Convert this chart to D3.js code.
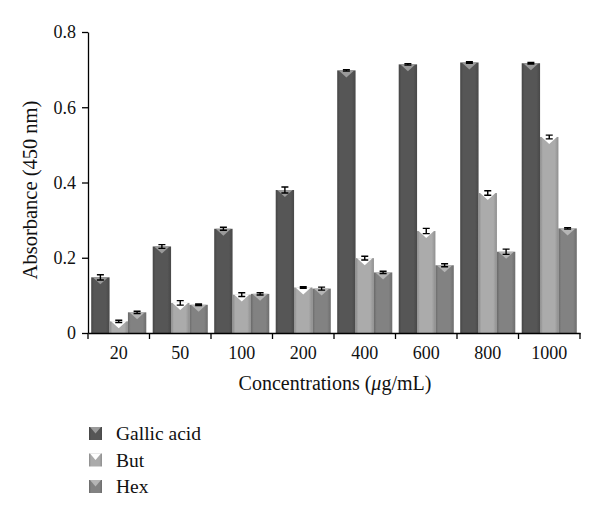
<!DOCTYPE html>
<html><head><meta charset="utf-8">
<script src="https://cdn.jsdelivr.net/npm/d3@7"></script>
<style>body{margin:0;background:#fff}svg{display:block}</style>
</head><body>
<svg id="c" width="600" height="517"></svg>
<script>
const categories = ["20","50","100","200","400","600","800","1000"];
const seriesNames = ["Gallic acid","But","Hex"];
const gallic = [0.148,0.230,0.277,0.380,0.698,0.714,0.719,0.717];
const but    = [0.031,0.080,0.102,0.121,0.199,0.271,0.372,0.521];
const hex    = [0.055,0.075,0.104,0.118,0.161,0.180,0.216,0.278];
const gallicErr = [0.007,0.005,0.004,0.008,0.002,0.002,0.002,0.002];
const butErr    = [0.003,0.006,0.005,0.002,0.005,0.007,0.006,0.005];
const hexErr    = [0.003,0.002,0.003,0.004,0.003,0.004,0.007,0.002];
const yTicks = [0,0.2,0.4,0.6,0.8];
const colors = ["#565656","#ababab","#828282"];
const tipColors = ["#9a9a9a","#ffffff","#b5b5b5"];

const svg = d3.select("#c");
const x0 = d3.scaleBand().domain(categories).range([88,580]).paddingInner(0).paddingOuter(0);
const x1 = d3.scaleBand().domain(seriesNames).range([0,x0.bandwidth()]).paddingInner(0).paddingOuter(0.175);
const y = d3.scaleLinear().domain([0,0.8]).range([333,32]);

const defs = svg.append("defs");
colors.forEach((c,i)=>{
  const g = defs.append("linearGradient").attr("id","g"+i).attr("x1","0").attr("x2","1").attr("y1","0").attr("y2","0");
  const base = d3.color(c);
  g.append("stop").attr("offset","0%").attr("stop-color",base.darker(0.6));
  g.append("stop").attr("offset","15%").attr("stop-color",base);
  g.append("stop").attr("offset","80%").attr("stop-color",base);
  g.append("stop").attr("offset","100%").attr("stop-color",base.darker(0.5));
});

const data = [gallic,but,hex];
const errs = [gallicErr,butErr,hexErr];
const font = "'Liberation Serif','DejaVu Serif',serif";

seriesNames.forEach((s,si)=>{
  const g = svg.append("g");
  categories.forEach((c,ci)=>{
    const v = data[si][ci];
    const bx = x0(c)+x1(s), bw = x1.bandwidth();
    g.append("rect").attr("x",bx).attr("y",y(v)).attr("width",bw).attr("height",y(0)-y(v))
      .attr("fill",`url(#g${si})`);
    const th = Math.min(7, y(0)-y(v));
    g.append("path").attr("d",`M${bx+1.5},${y(v)}L${bx+bw-1.5},${y(v)}L${bx+bw/2},${y(v)+th}Z`)
      .attr("fill",tipColors[si]);
    const e = errs[si][ci], cx = bx+bw/2;
    g.append("path").attr("d",`M${cx-3.5},${y(v+e)}H${cx+3.5}M${cx},${y(v+e)}V${y(v-e)}M${cx-3.5},${y(v-e)}H${cx+3.5}`)
      .attr("stroke","#000").attr("stroke-width",1.4).attr("fill","none");
  });
});

const yAxis = svg.append("g").attr("transform","translate(88,0)")
  .call(d3.axisLeft(y).tickValues(yTicks).tickFormat(d=>d===0?"0":d3.format(".1f")(d)).tickSize(6).tickSizeOuter(0));
const xAxis = svg.append("g").attr("transform","translate(0,333)")
  .call(d3.axisBottom(x0).tickSize(0).tickSizeOuter(0));
[yAxis,xAxis].forEach(a=>{
  a.select(".domain").attr("stroke","#000").attr("stroke-width",1.3);
  a.selectAll(".tick line").attr("stroke","#000").attr("stroke-width",1.3);
  a.selectAll("text").attr("font-family",font).attr("font-size",18).attr("fill","#111");
});
yAxis.selectAll(".tick text").attr("x",-12);
xAxis.selectAll(".tick text").attr("dy",null).attr("y",26);
const bounds = categories.map(c=>x0(c)).concat([x0.range()[1]]);
xAxis.selectAll(".btick").data(bounds).enter().append("line")
  .attr("x1",d=>d).attr("x2",d=>d).attr("y1",0).attr("y2",6)
  .attr("stroke","#000").attr("stroke-width",1.3);

svg.append("text").attr("transform","translate(37,190) rotate(-90)").attr("text-anchor","middle")
  .attr("font-family",font).attr("font-size",20.5).attr("fill","#111").text("Absorbance (450 nm)");
const xt = svg.append("text").attr("x",335).attr("y",390).attr("text-anchor","middle")
  .attr("font-family",font).attr("font-size",20).attr("fill","#111");
xt.append("tspan").text("Concentrations (");
xt.append("tspan").attr("font-style","italic").text("μ");
xt.append("tspan").text("g/mL)");

const leg = svg.append("g");
seriesNames.forEach((s,i)=>{
  const ly = 427 + i*26.5;
  leg.append("rect").attr("x",89).attr("y",ly).attr("width",13).attr("height",13).attr("fill",`url(#g${i})`);
  leg.append("path").attr("d",`M90,${ly}L101,${ly}L95.5,${ly+6.5}Z`).attr("fill",tipColors[i]);
  leg.append("text").attr("x",116).attr("y",ly+13).attr("font-family",font).attr("font-size",19.5).attr("fill","#111").text(s);
});
</script>
</body></html>
